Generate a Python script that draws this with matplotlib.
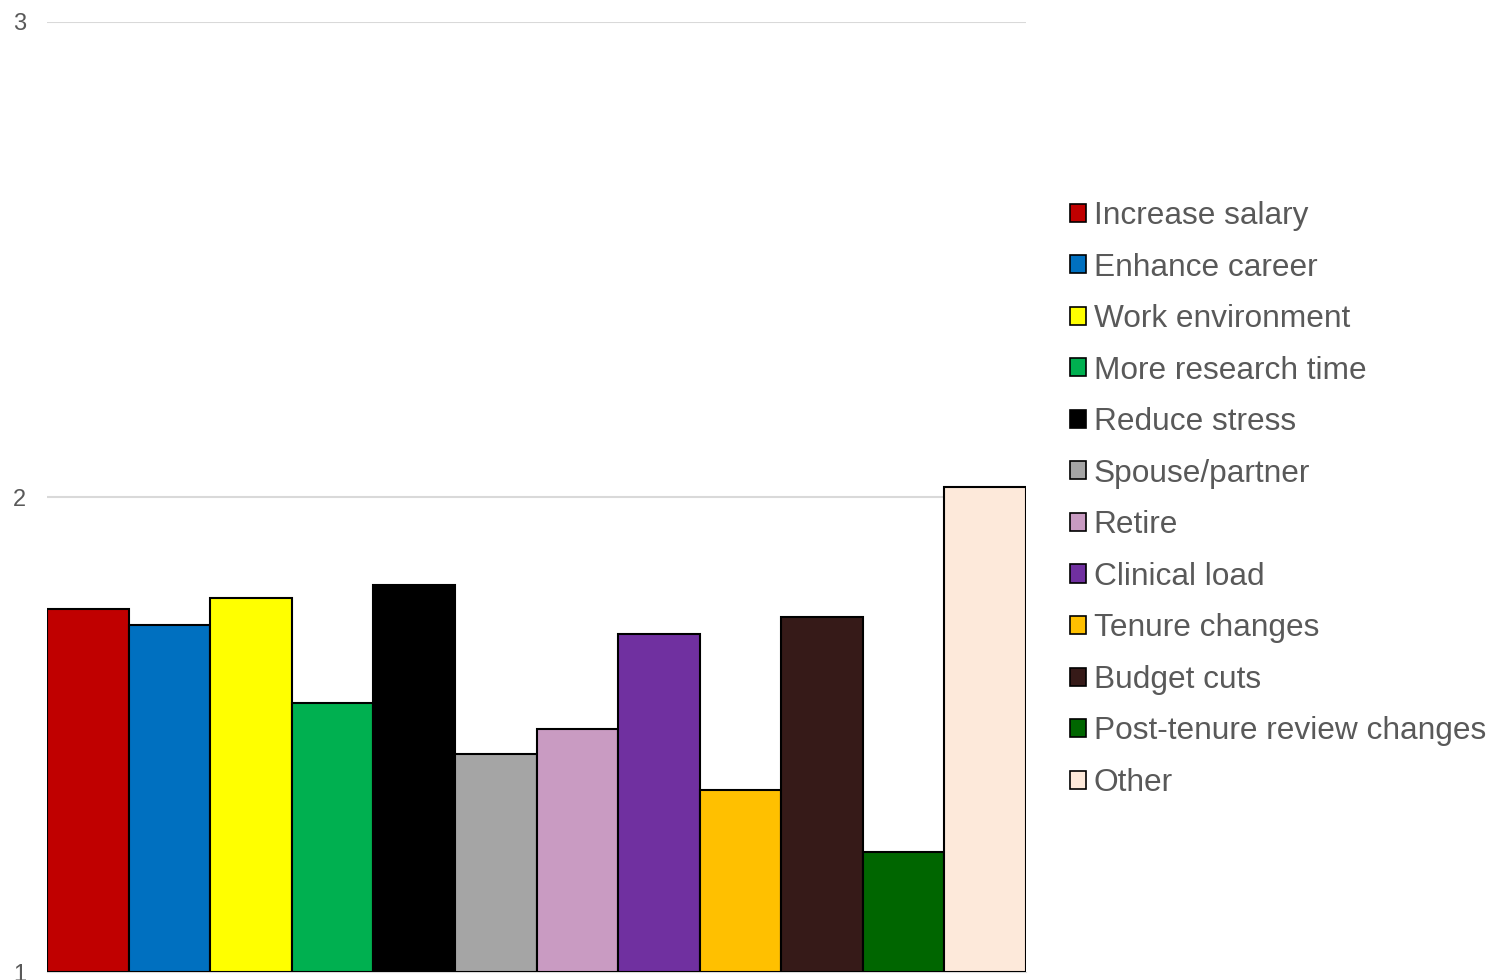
import matplotlib.pyplot as plt
import numpy as np
from matplotlib.patches import Patch

plt.rcParams['font.family'] = ['Liberation Sans', 'DejaVu Sans']

reasons = ["Increase salary", "Enhance career", "Work environment",
           "More research time", "Reduce stress", "Spouse/partner",
           "Retire", "Clinical load", "Tenure changes", "Budget cuts",
           "Post-tenure review changes", "Other"]
scores = [1.764, 1.731, 1.787, 1.566, 1.815, 1.459,
          1.512, 1.712, 1.383, 1.747, 1.253, 2.021]
colors = ["#C00000", "#0070C0", "#FFFF00", "#00B050", "#000000", "#A5A5A5",
          "#C99BC2", "#7030A0", "#FFC000", "#361A18", "#006600", "#FDE9DA"]
yticks = [1, 2, 3]

fig = plt.figure(figsize=(14.95, 9.8), dpi=100)
ax = fig.add_axes([47 / 1495, 8 / 980, 979 / 1495, 950 / 980])

x = np.arange(len(reasons))
ax.bar(x, np.array(scores) - 1, bottom=1, width=1.0, color=colors,
       edgecolor="black", linewidth=1.5, zorder=3)

ax.set_xlim(-0.5, len(reasons) - 0.5)
ax.set_ylim(1, 3)
ax.set_yticks(yticks)
ax.set_yticklabels([str(t) for t in yticks])
ax.tick_params(axis="y", length=0, pad=15, labelsize=17, labelcolor="#595959")
ax.tick_params(axis="x", length=0, labelbottom=False)
ax.grid(axis="y", color="#D9D9D9", linewidth=1.5, zorder=0)
for s in ["top", "right", "left"]:
    ax.spines[s].set_visible(False)
ax.spines["bottom"].set_color("#D9D9D9")

handles = [Patch(facecolor=c, edgecolor="black", linewidth=1.2) for c in colors]
leg = fig.legend(handles, reasons, loc="upper left",
                 bbox_to_anchor=(1070 / 1495, 1 - 201 / 980),
                 frameon=False, fontsize=22.8, labelcolor="#595959",
                 handlelength=0.5, handleheight=0.5, handletextpad=0.25,
                 labelspacing=0.68, borderaxespad=0, borderpad=0)

fig.savefig("out.png", dpi=100)
